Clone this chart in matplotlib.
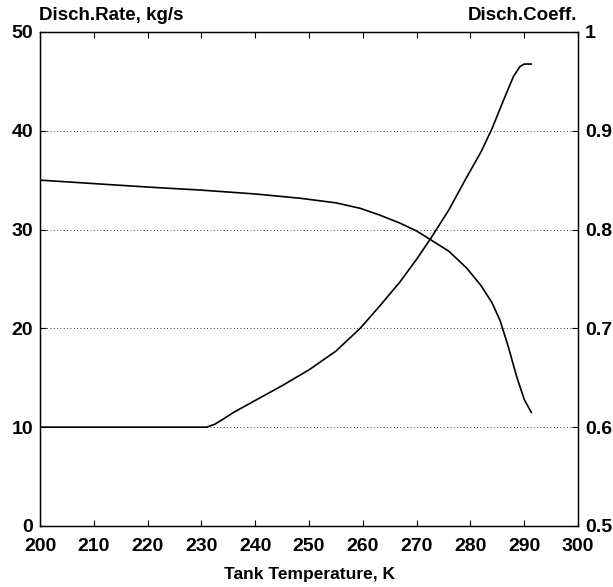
import matplotlib.pyplot as plt
import numpy as np

plt.rcParams['font.family'] = ['Liberation Sans', 'DejaVu Sans']
plt.rcParams['font.weight'] = 'bold'

# discharge rate, kg/s (left axis)
rate_temp = [200, 210, 220, 229.7, 240, 248.3, 255, 259.5, 263.2, 266.9, 270, 272.5, 276, 279.3, 282, 284, 285.5, 287, 288.6, 290, 291.3]
rate_val = [35.0, 34.65, 34.3, 34.0, 33.6, 33.17, 32.7, 32.15, 31.45, 30.65, 29.85, 29.0, 27.8, 26.1, 24.3, 22.6, 20.8, 18.2, 15.1, 12.8, 11.5]

# discharge coefficient (right axis)
coef_temp = [200, 210, 220, 231, 232.5, 234, 236, 240, 245, 250, 255, 259.5, 263.2, 266.9, 270, 272.5, 276, 279, 282, 284, 286, 288, 289.2, 290, 291.3]
coef_val = [0.600, 0.600, 0.600, 0.600, 0.603, 0.608, 0.615, 0.627, 0.642, 0.658, 0.677, 0.700, 0.723, 0.747, 0.770, 0.790, 0.820, 0.850, 0.879, 0.902, 0.929, 0.955, 0.965, 0.9675, 0.9675]

fig = plt.figure(figsize=(6.13, 5.87), dpi=100)
ax = fig.add_axes([0.0653, 0.104, 0.8777, 0.8416])
ax.plot(rate_temp, rate_val, color='black', lw=1.2)
ax.set_xlim(200, 300)
ax.set_ylim(0, 50)
ax.set_xticks(np.arange(200, 301, 10))
ax.set_yticks(np.arange(0, 51, 10))
ax.grid(axis='y', linestyle=(0, (1, 3)), color='black', lw=0.6)
ax.tick_params(direction='in', length=4, labelsize=14, top=True, width=0.8)
ax.tick_params(axis='x', pad=9)
ax.tick_params(axis='y', pad=5)
ax.set_xlabel('Tank Temperature, K', fontsize=12.5, fontweight='bold', labelpad=8)

ax2 = ax.twinx()
ax2.plot(coef_temp, coef_val, color='black', lw=1.2)
ax2.set_ylim(0.5, 1.0)
ax2.set_yticks([0.5, 0.6, 0.7, 0.8, 0.9, 1.0])
ax2.set_yticklabels(['0.5', '0.6', '0.7', '0.8', '0.9', '1'])
ax2.tick_params(direction='in', length=4, labelsize=14, width=0.8, pad=5)

for a in (ax, ax2):
    for s in a.spines.values():
        s.set_linewidth(0.9)

fig.text(0.0636, 0.974, 'Disch.Rate, kg/s', fontsize=13.5, fontweight='bold', ha='left', va='center')
fig.text(0.941, 0.974, 'Disch.Coeff.', fontsize=13.5, fontweight='bold', ha='right', va='center')

fig.savefig('out.png', dpi=100)
